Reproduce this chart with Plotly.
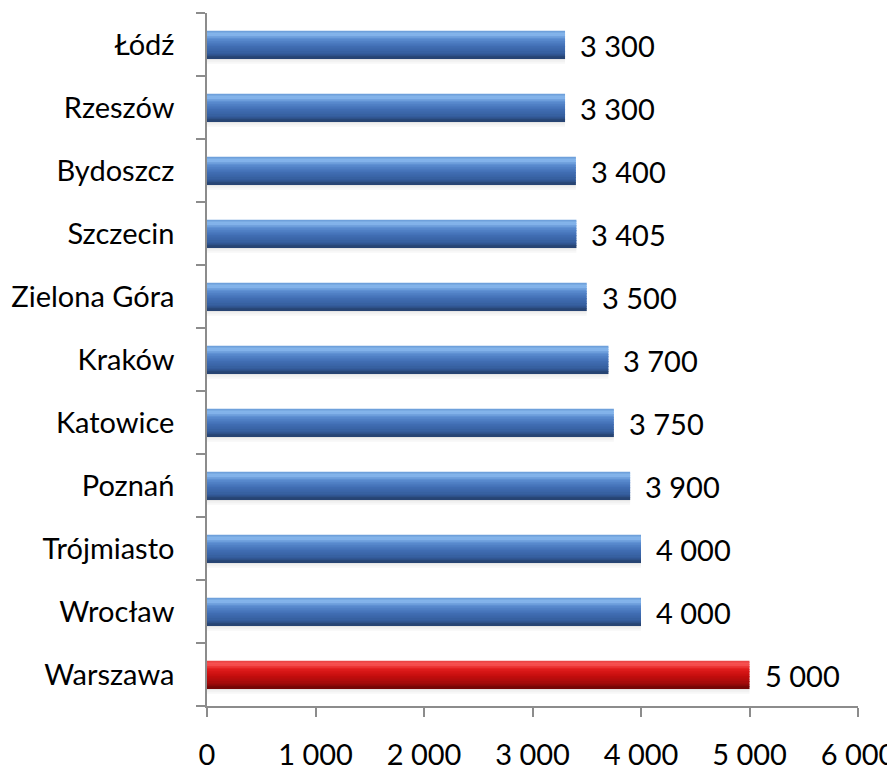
import plotly.graph_objects as go

# data, bottom to top
cities = ["Warszawa", "Wrocław", "Trójmiasto", "Poznań", "Katowice", "Kraków",
          "Zielona Góra", "Szczecin", "Bydoszcz", "Rzeszów", "Łódź"]
salaries = [5000, 4000, 4000, 3900, 3750, 3700, 3500, 3405, 3400, 3300, 3300]
highlight = "Warszawa"

x_ticks = [0, 1000, 2000, 3000, 4000, 5000, 6000]

# gradient stops (top -> bottom) for the bevelled look
blue_stops = [(0.0, (100, 150, 212)), (0.12, (140, 188, 240)), (0.3, (90, 140, 208)),
              (0.55, (66, 112, 182)), (0.85, (52, 92, 155)), (1.0, (36, 62, 105))]
red_stops = [(0.0, (230, 60, 60)), (0.12, (250, 85, 85)), (0.3, (225, 28, 28)),
             (0.55, (198, 14, 14)), (0.85, (158, 10, 10)), (1.0, (105, 5, 5))]


def lerp(stops, t):
    for (t0, c0), (t1, c1) in zip(stops[:-1], stops[1:]):
        if t0 <= t <= t1:
            f = (t - t0) / (t1 - t0) if t1 > t0 else 0
            c = [round(a + (b - a) * f) for a, b in zip(c0, c1)]
            return "rgb(%d,%d,%d)" % tuple(c)
    return "rgb(%d,%d,%d)" % stops[-1][1]


bar_w = 0.43
n_strips = 16
strip = bar_w / n_strips

fig = go.Figure()

# soft shadow below each bar
for k, a in enumerate([0.10, 0.06, 0.03]):
    fig.add_trace(go.Bar(
        y=cities, x=salaries, orientation="h",
        width=0.03, offset=-bar_w / 2 - 0.03 * (k + 1),
        marker=dict(color="rgba(0,0,0,%s)" % a, line_width=0),
        hoverinfo="skip", showlegend=False,
    ))

for i in range(n_strips):
    t = (i + 0.5) / n_strips
    colors = [lerp(red_stops if c == highlight else blue_stops, t) for c in cities]
    fig.add_trace(go.Bar(
        y=cities, x=salaries, orientation="h",
        width=strip * 1.05, offset=bar_w / 2 - (i + 1) * strip,
        marker=dict(color=colors, line_width=0),
        hoverinfo="skip", showlegend=False,
    ))

for c, v in zip(cities, salaries):
    fig.add_annotation(
        x=v, y=c, text="{:,}".format(v).replace(",", " "),
        xanchor="left", yanchor="middle", xshift=13, yshift=-1, showarrow=False,
        font=dict(size=29, color="black"),
    )

# the page adds an 8 px body margin, so the margins are trimmed by 8 px
fig.update_layout(
    width=895, height=769,
    margin=dict(l=199, r=45, t=5, b=71, autoexpand=False),
    barmode="overlay",
    plot_bgcolor="white", paper_bgcolor="white",
    font=dict(family="Lato, Carlito, sans-serif", size=29, color="black"),
    separators=", ",
    showlegend=False,
)
fig.update_xaxes(
    range=[0, 6000], tickvals=x_ticks, tickformat=",d",
    showgrid=False, zeroline=False, automargin=False,
    showline=True, linecolor="#8c8c8c", linewidth=1.5,
    ticks="outside", ticklen=9, tickcolor="#8c8c8c", tickwidth=1.5,
    ticklabelstandoff=13,
)
fig.update_yaxes(
    type="category", categoryorder="array", categoryarray=cities,
    showgrid=False, zeroline=False, automargin=False,
    showline=True, linecolor="#8c8c8c", linewidth=1.5,
    ticks="outside", ticklen=9, tickcolor="#8c8c8c", tickwidth=1.5,
    tickson="boundaries", ticklabelstandoff=25,
)

fig.write_html("out.html")
